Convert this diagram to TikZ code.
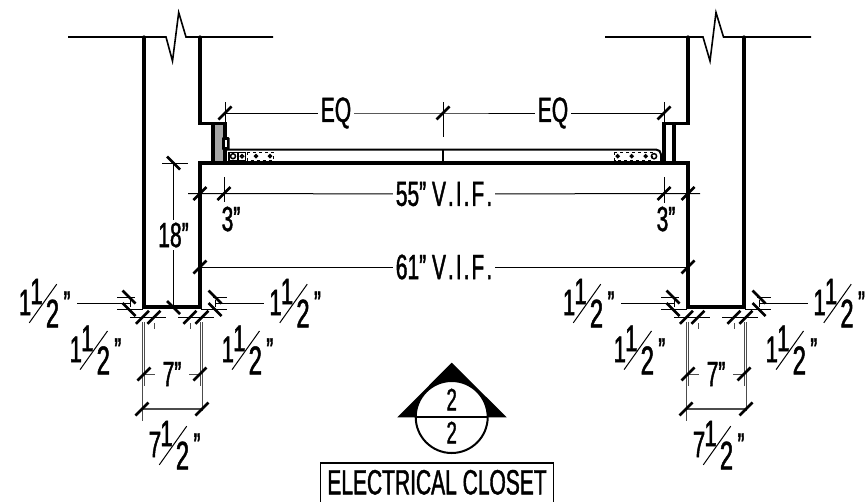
\documentclass[tikz,border=0pt]{standalone}
\usepackage{fontspec}
\setmainfont[FakeStretch=0.6,FakeBold=1.2]{Liberation Sans}
\tikzset{
  wall/.style={line width=3.2pt,line cap=round,line join=miter},
  rail/.style={line width=2pt},
  thinline/.style={line width=1pt},
  dimline/.style={line width=1pt,black!70},
  slash/.style={line width=2.6pt},
  lbl/.style={font=\fontsize{35}{35}\selectfont,inner sep=0pt,fill=white,outer sep=3pt},
  numeral/.style={font=\fontsize{37}{37}\selectfont,inner sep=0pt},
  denom/.style={font=\fontsize{40}{40}\selectfont,inner sep=0pt},
  inchmark/.style={font=\fontsize{35}{35}\selectfont,inner sep=0pt}
}
% short slanted tick of a dimension line
\newcommand{\tickup}[2]{\draw[slash] (#1-6.5,#2+6.5) -- (#1+6.5,#2-6.5);}
\newcommand{\tickdn}[2]{\draw[slash] (#1-6.5,#2-6.5) -- (#1+6.5,#2+6.5);}
% whole number, one half and inch mark round the slant of the fraction
\newcommand{\halfdim}[4]{
  \node[numeral] (#3w) at (#1-18,#2-1) {#4};
  \node[numeral] (#3n) at (#1-6.5,#2-12) {1};
  \node[denom] (#3d) at (#1+9.5,#2+10) {2};
  \node[inchmark] (#3i) at (#1+24,#2) {"};
  \draw[line width=1pt] (#1-13.7,#2+19.3) -- (#1+13.7,#2-19.3);
}
\newcommand{\vifmark}{V\kern2pt.\kern2pt I\kern2pt.\kern2pt F\kern2pt.}
\begin{document}
\begin{tikzpicture}[x=1pt,y=-1pt]
\useasboundingbox (0,0) rectangle (866,501);

% breaks in the walls
\draw[line width=1.6pt] (68,37) -- (166,37) -- (172.5,61) -- (178.7,12.5) -- (186,37) -- (273,37);
\draw[line width=1.6pt] (605,37) -- (703,37) -- (710,61) -- (716,12.5) -- (723.5,37) -- (811,37);

% walls
\draw[wall] (144,37) -- (144,307) -- (200,307) -- (200,163) -- (688,163) -- (688,307) -- (744,307) -- (744,37);
\draw[wall] (200,37) -- (200,123.5) -- (213,123.5);
\draw[wall] (688,37) -- (688,123.5) -- (664,123.5);

% left jamb
\fill[black!35] (214,124) rectangle (225,163);
\draw[wall] (225,163) -- (213,163) -- (213,123.5) -- (225,123.5) -- (225,163);
\fill[black,rounded corners=1pt] (222,137) rectangle (229.5,150);
\fill[white] (224.5,140) rectangle (226.5,147);

% right jamb
\draw[wall] (664,163) -- (664,123.5) -- (674,123.5) -- (674,163);

% rail
\draw[rail] (225,149.5) -- (656,149.5) arc[start angle=-90,end angle=0,radius=5] -- (661,163);
\draw[line width=2pt] (443,150) -- (443,163);

% left hinge
\fill[black] (228,151.5) rectangle (246,161);
\fill[white] (230,152.5) rectangle (237,160);
\fill[white] (239,152.5) rectangle (245,160);
\draw[dashed,thinline,fill=white] (247,152) rectangle (273,160.5);
\draw[line width=1.5pt] (233,156.2) circle (2.5);
\draw[line width=1.5pt] (242,156.2) circle (1.6);
\draw[line width=1.5pt] (256,156.2) circle (1.4);
\draw[line width=1.5pt] (270,156.2) circle (1.4);

% right hinge
\draw[dashed,thinline] (614.5,152) rectangle (652,160.5);
\draw[line width=1.5pt] (617.7,156.2) circle (1.4);
\draw[line width=1.5pt] (631.7,156.2) circle (1.4);
\draw[line width=1.5pt] (645.7,156.2) circle (1.4);
\draw[line width=1.5pt] (654,156.2) circle (2.6);

% EQ
\node[lbl] (eqa) at (336,113) {EQ};
\node[lbl] (eqb) at (553,113) {EQ};
\coordinate (eqstart) at (225,113);
\coordinate (eqmid) at (443,113);
\coordinate (eqend) at (664,113);
\draw[thinline] (eqstart) -- (eqa) (eqa) -- (eqmid) -- (eqb) (eqb) -- (eqend);
\draw[thinline] (225,102) -- (225,123);
\draw[thinline] (443,102) -- (443,137);
\draw[thinline] (664,102) -- (664,123);
\tickup{225}{113}
\tickup{443}{113}
\tickup{664}{113}

% 55 V.I.F.
\node[lbl] (vifa) at (444,194) {55" \vifmark};
\coordinate (vifastart) at (188,193.5);
\coordinate (vifaend) at (700,193.5);
\draw[thinline] (vifastart) -- (vifa) (vifa) -- (vifaend);
\draw[thinline] (224,177) -- (224,202);
\draw[thinline] (664,177) -- (664,203);
\tickup{200}{193.5}
\tickup{224}{193.5}
\tickup{664}{193.5}
\tickup{688}{193.5}
\node[lbl,fill=none] (threea) at (231,219) {3"};
\node[lbl,fill=none] (threeb) at (666,219) {3"};

% 61 V.I.F.
\node[lbl] (vifb) at (444,267) {61" \vifmark};
\coordinate (vifbstart) at (200,267);
\coordinate (vifbend) at (688,267);
\draw[thinline] (vifbstart) -- (vifb) (vifb) -- (vifbend);
\tickup{200}{267}
\tickup{688}{267}

% 18
\node[lbl] (height) at (173.5,235) {18"};
\coordinate (heighttop) at (173.5,163);
\coordinate (heightbot) at (173.5,307);
\draw[thinline] (heighttop) -- (height) (height) -- (heightbot);
\draw[thinline] (162,163) -- (188,163);
\tickdn{173.5}{163}
\tickdn{173.5}{307.5}

% the two footings
\foreach \dx/\sd in {0/a,544/b}{
  \begin{scope}[xshift=\dx pt]
  \draw[thinline] (117,297.5) -- (135,297.5) (117,309) -- (143,309);
  \draw[thinline] (201,309) -- (227,309) (213,297.5) -- (227,297.5);
  \draw[thinline] (130,300) -- (130,307) (215,300) -- (215,307);
  \draw[thinline] (130,303) -- (77,303);
  \draw[thinline] (215,303) -- (264,303);
  \draw[thinline] (130,317.5) -- (166,317.5) (178,317.5) -- (213.5,317.5);
  \tickdn{129}{297}
  \tickdn{129}{309.5}
  \tickdn{215}{297}
  \tickdn{215}{309.5}
  \tickup{142.5}{317.3}
  \tickup{154}{317.3}
  \tickup{190}{317.3}
  \tickup{202}{317.3}
  \draw[dimline] (154,323) -- (154,329) (190,323) -- (190,329);
  \draw[dimline,line width=1.3pt] (142.5,322) -- (142.5,421) (202.5,322) -- (202.5,411);
  \draw[dimline,line width=1.3pt] (144.5,322) -- (144.5,386) (200.5,322) -- (200.5,386);
  \node[numeral,font=\fontsize{35}{35}\selectfont] (seven\sd) at (172,374) {7"};
  \coordinate (sevenstart\sd) at (144,374);
  \coordinate (sevenend\sd) at (200,374);
  \draw[dimline] (sevenstart\sd) -- (155,374) (189,374) -- (sevenend\sd);
  \tickup{144}{374}
  \tickup{200}{374}
  \draw[dimline,line width=1.3pt] (142,409) -- (202,409);
  \tickup{142}{409}
  \tickup{202}{409}
  \halfdim{43}{303.5}{one\sd}{1}
  \halfdim{293.5}{303.5}{two\sd}{1}
  \halfdim{93.8}{350.3}{three\sd}{1}
  \halfdim{245.8}{350.3}{four\sd}{1}
  \halfdim{173}{445.5}{five\sd}{7}
  \end{scope}
}

% section mark
\fill (451.7,362.7) -- (506.7,417.3) -- (397.3,417.3) -- cycle;
\draw[line width=2pt,fill=white] (451.7,417) circle (36);
\draw[line width=2pt] (415.7,417) -- (487.7,417);
\node[inner sep=0pt,font=\fontsize{31}{31}\selectfont] (secnum) at (451.7,399.5) {2};
\node[inner sep=0pt,font=\fontsize{31}{31}\selectfont] (secsheet) at (451.7,432.5) {2};

% title
\node[inner sep=0pt,minimum width=232pt,minimum height=38pt,font=\fontsize{35}{35}\selectfont] (title) at (437,482.3) {ELECTRICAL CLOSET};
\draw[line width=1.3pt] (title.south west) -- (title.north west) -- (title.north east) -- (title.south east);
\end{tikzpicture}
\end{document}
